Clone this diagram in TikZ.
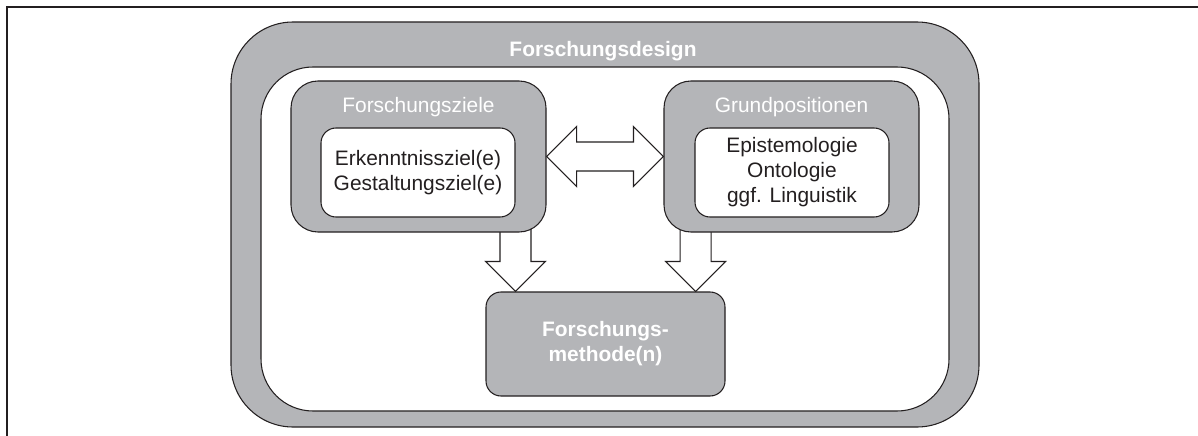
\documentclass[tikz,border=0pt]{standalone}
\usepackage{fontspec}
\setmainfont{Liberation Sans}
\usepackage{tikz}
\usetikzlibrary{calc, positioning}

\definecolor{boxgray}{RGB}{180,181,184}
\definecolor{linecol}{RGB}{35,31,32}

\pgfdeclarelayer{bg}
\pgfdeclarelayer{mid}
\pgfsetlayers{bg,mid,main}

\begin{document}
\begin{tikzpicture}[
  every node/.style={font=\fontsize{11.9}{14.2}\selectfont, text=linecol},
  grayframe/.style={draw=linecol, line width=0.6pt, fill=boxgray, inner sep=0pt},
  whitebox/.style={draw=linecol, line width=0.6pt, fill=white, inner sep=0pt, align=center, rounded corners=0.3cm},
  boxtitle/.style={text=white},
  blockarrow/.style={draw=linecol, line width=0.6pt, fill=white, line join=miter},
]
  \useasboundingbox (0,0) rectangle (23.96,-8.72);
  \draw[linecol, line width=0.8pt] (23.96,-0.14) -- (0.14,-0.14) -- (0.14,-8.72);

  \begin{pgfonlayer}{bg}
    \node[grayframe,rounded corners=1.24cm,minimum width=14.96cm,minimum height=8.1cm] (design) at (12.1,-4.49) {};
    \node[whitebox,rounded corners=1.04cm,minimum width=13.76cm,minimum height=6.88cm] (inner) at (12.1,-4.78) {};
  \end{pgfonlayer}
  \node[boxtitle,font=\fontsize{11.9}{14.2}\selectfont\bfseries] (designtitle) at (12.06,-1.02) {Forschungsdesign};

  \node[grayframe,rounded corners=0.54cm,minimum width=5.1cm,minimum height=3.02cm] (ziele) at (8.37,-3.13) {};
  \node[boxtitle] (zieletitle) at (8.37,-2.14) {Forschungsziele};
  \node[whitebox,minimum width=3.88cm,minimum height=1.78cm] (zieleinner) at (8.36,-3.45) {Erkenntnissziel(e)\\Gestaltungsziel(e)};

  \node[grayframe,rounded corners=0.54cm,minimum width=5.1cm,minimum height=3.02cm] (grund) at (15.83,-3.13) {};
  \node[boxtitle] (grundtitle) at (15.83,-2.14) {Grundpositionen};
  \node[whitebox,minimum width=3.88cm,minimum height=1.78cm] (grundinner) at (15.84,-3.45) {Epistemologie\\Ontologie\\ggf. Linguistik};

  \node[grayframe,rounded corners=0.3cm,minimum width=4.78cm,minimum height=2.08cm,align=center,text=white,font=\fontsize{11.9}{14.2}\selectfont\bfseries] (meth) at (12.11,-6.88) {Forschungs-\\methode(n)};

  \coordinate (tipL) at ($(meth.north west)+(0.6,0)$);
  \coordinate (tipR) at ($(meth.north east)+(-0.6,0)$);

  \begin{pgfonlayer}{mid}
    % double arrow between the two upper boxes
    \draw[blockarrow] (ziele.east) -- ++(0.6,0.6) -- ++(0,-0.31) -- ($(grund.west)+(-0.6,0.29)$) -- ++(0,0.31) -- (grund.west)
      -- ++(-0.6,-0.6) -- ++(0,0.31) -- ($(ziele.east)+(0.6,-0.29)$) -- ++(0,-0.31) -- cycle;
    % arrows down to the method box
    \draw[blockarrow] (tipL) -- ++(-0.6,0.6) -- ++(0.29,0) -- ($(tipL |- ziele.south)+(-0.31,0.1)$) -- ++(0.62,0)
      -- ($(tipL)+(0.31,0.6)$) -- ++(0.29,0) -- cycle;
    \draw[blockarrow] (tipR) -- ++(-0.6,0.6) -- ++(0.29,0) -- ($(tipR |- grund.south)+(-0.31,0.1)$) -- ++(0.62,0)
      -- ($(tipR)+(0.31,0.6)$) -- ++(0.29,0) -- cycle;
  \end{pgfonlayer}
\end{tikzpicture}
\end{document}
